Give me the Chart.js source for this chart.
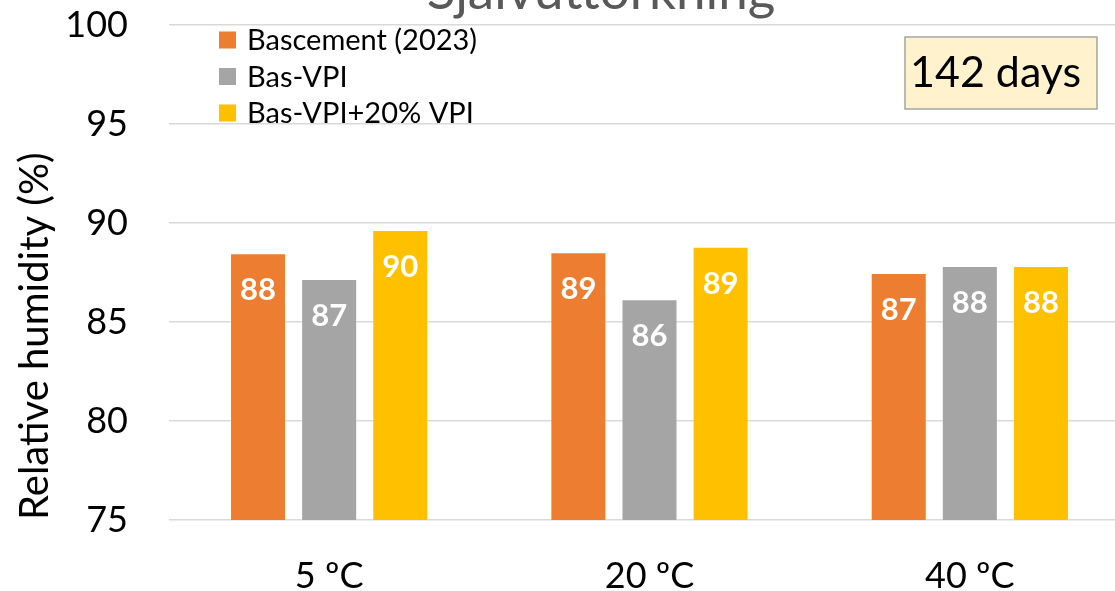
<!DOCTYPE html>
<html lang="sv">
<head>
    <meta charset="UTF-8">
    <title>Självuttorkning</title>
    <script src="https://cdn.jsdelivr.net/npm/chart.js"></script>
    <style>
        body {
            margin: 0;
            overflow: hidden;
            background: #fff;
        }
        #wrap {
            position: relative;
            width: 1140px;
            height: 591px;
        }
    </style>
</head>
<body>
    <div id="wrap">
        <canvas id="rhChart"></canvas>
    </div>

    <script>
        // data
        const categories = ['5 ºC', '20 ºC', '40 ºC'];
        const seriesNames = ['Bascement (2023)', 'Bas-VPI', 'Bas-VPI+20% VPI'];
        const bascement = [88.47, 88.52, 87.47];
        const basVpi = [87.17, 86.15, 87.83];
        const basVpi20 = [89.65, 88.8, 87.83];
        const yTicks = [75, 80, 85, 90, 95, 100];

        const colors = ['#ED7D31', '#A5A5A5', '#FFC000'];
        const FONT = 'Lato, "Open Sans", sans-serif';

        // white value labels inside the top of each bar
        const barLabels = {
            id: 'barLabels',
            afterDatasetsDraw(chart) {
                const ctx = chart.ctx;
                ctx.save();
                ctx.font = 'bold 31px ' + FONT;
                ctx.fillStyle = '#ffffff';
                ctx.textAlign = 'center';
                ctx.textBaseline = 'middle';
                chart.data.datasets.forEach((ds, i) => {
                    chart.getDatasetMeta(i).data.forEach((bar, j) => {
                        ctx.fillText(Math.round(ds.data[j]), bar.x, bar.y + 37);
                    });
                });
                ctx.restore();
            }
        };

        // title (cut at the top), legend and the "142 days" note
        const decorations = {
            id: 'decorations',
            afterDraw(chart) {
                const ctx = chart.ctx;
                const area = chart.chartArea;
                ctx.save();

                ctx.font = '53px ' + FONT;
                ctx.fillStyle = '#595959';
                ctx.textAlign = 'center';
                ctx.textBaseline = 'alphabetic';
                ctx.fillText('Självuttorkning', 601, 9);

                ctx.font = '29px ' + FONT;
                ctx.textAlign = 'left';
                ctx.textBaseline = 'middle';
                chart.data.datasets.forEach((ds, i) => {
                    const y = area.top + 15 + i * 36.5;
                    ctx.fillStyle = ds.backgroundColor;
                    ctx.fillRect(area.left + 50, y - 8.5, 17, 17);
                    ctx.fillStyle = '#000';
                    ctx.fillText(ds.label, area.left + 78, y + 1);
                });

                ctx.fillStyle = '#FFF2CC';
                ctx.fillRect(905, 37, 192, 72);
                ctx.strokeStyle = '#A5A5A5';
                ctx.lineWidth = 1.5;
                ctx.strokeRect(905, 37, 192, 72);
                ctx.font = '43px ' + FONT;
                ctx.fillStyle = '#000';
                ctx.textBaseline = 'alphabetic';
                ctx.fillText('142 days', 910, 87);

                ctx.restore();
            }
        };

        const ctx = document.getElementById('rhChart').getContext('2d');

        new Chart(ctx, {
            type: 'bar',
            data: {
                labels: categories,
                datasets: [bascement, basVpi, basVpi20].map((values, i) => ({
                    label: seriesNames[i],
                    data: values,
                    backgroundColor: colors[i],
                    borderColor: 'rgba(255,255,255,0.35)',
                    borderWidth: 1,
                    categoryPercentage: 0.666,
                    barPercentage: 0.788
                }))
            },
            options: {
                responsive: true,
                maintainAspectRatio: false,
                animation: false,
                layout: {
                    padding: { top: 25, right: 10, bottom: 0, left: 0 }
                },
                plugins: {
                    legend: { display: false },
                    tooltip: { enabled: false }
                },
                scales: {
                    x: {
                        grid: { display: false },
                        border: { display: false },
                        ticks: {
                            color: '#000',
                            font: { family: FONT, size: 36 },
                            padding: 27
                        },
                        afterFit(scale) { scale.height = 71; }
                    },
                    y: {
                        min: 75,
                        max: 100,
                        afterBuildTicks(scale) {
                            scale.ticks = yTicks.map(v => ({ value: v }));
                        },
                        // invisible tick marks give the gap between labels and plot
                        grid: {
                            color: '#D9D9D9',
                            lineWidth: 1.5,
                            drawTicks: true,
                            tickLength: 41,
                            tickColor: 'rgba(0,0,0,0)'
                        },
                        border: { display: false },
                        ticks: {
                            color: '#000',
                            font: { family: FONT, size: 36 },
                            padding: 0
                        },
                        title: {
                            display: true,
                            text: 'Relative humidity (%)',
                            align: 'start',
                            color: '#000',
                            font: { family: FONT, size: 40 },
                            padding: { top: 11, bottom: 0 }
                        },
                        afterFit(scale) { scale.width = 169; }
                    }
                }
            },
            plugins: [barLabels, decorations]
        });
    </script>
</body>
</html>
